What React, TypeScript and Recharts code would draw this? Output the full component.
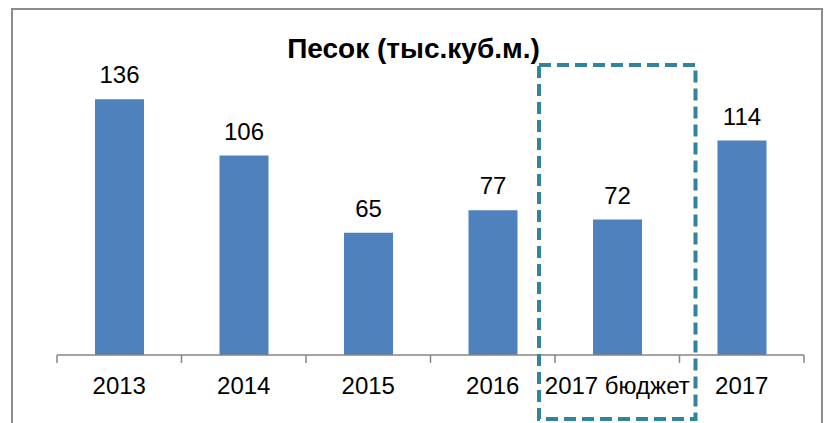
import React from "react";
import { Bar, BarChart, LabelList, XAxis, YAxis } from "recharts";

const categories = ["2013", "2014", "2015", "2016", "2017 бюджет", "2017"];
const sandValues = [136, 106, 65, 77, 72, 114];
const title = "Песок (тыс.куб.м.)";
const highlighted = "2017 бюджет";

const data = categories.map((name, i) => ({ name, value: sandValues[i] }));

const W = 824;
const H = 423;
const plotLeft = 57;
const plotRight = 804;
const plotTop = 54;
const axisY = 355;
const axisH = 30;
const band = (plotRight - plotLeft) / categories.length;
const font = "'Liberation Sans', Arial, sans-serif";

function Tick(props: any) {
  const { x, y, payload, index } = props;
  const half = band / 2;
  return (
    <g>
      <line x1={x - half} x2={x - half} y1={y} y2={y + 8} stroke="#868686" strokeWidth={1.5} />
      {index === categories.length - 1 && (
        <line x1={x + half} x2={x + half} y1={y} y2={y + 8} stroke="#868686" strokeWidth={1.5} />
      )}
      <text x={x} y={y + 39} textAnchor="middle" fontSize={24} fill="#000" fontFamily={font}>
        {payload.value}
      </text>
    </g>
  );
}

export default function App() {
  const hi = categories.indexOf(highlighted);
  const boxX = plotLeft + hi * band - 16;
  return (
    <div style={{ position: "absolute", left: 0, top: 0, width: W, height: H, background: "#fff", overflow: "hidden" }}>
      <div
        style={{
          position: "absolute",
          left: 11,
          top: 8,
          width: 812,
          height: 440,
          border: "2px solid #8c8c8c",
          boxSizing: "border-box",
        }}
      />
      <div style={{ position: "absolute", left: 0, top: 0 }}>
        <BarChart
          width={W}
          height={H}
          data={data}
          margin={{ top: plotTop, left: plotLeft, right: W - plotRight, bottom: H - axisY - axisH }}
        >
          <XAxis
            dataKey="name"
            height={axisH}
            axisLine={{ stroke: "#868686", strokeWidth: 1.5 }}
            tickLine={false}
            tickSize={0}
            tickMargin={0}
            interval={0}
            tick={<Tick />}
          />
          <YAxis hide domain={[0, 160]} />
          <Bar dataKey="value" fill="#4F81BD" barSize={49} isAnimationActive={false}>
            <LabelList dataKey="value" position="top" offset={16} fontSize={24} fill="#000" fontFamily={font} />
          </Bar>
        </BarChart>
      </div>
      <svg style={{ position: "absolute", left: 0, top: 0 }} width={W} height={H}>
        <text x={413.5} y={58} textAnchor="middle" fontSize={28} fontWeight="bold" fontFamily={font} fill="#000">
          {title}
        </text>
        <rect
          x={boxX}
          y={65}
          width={band + 32}
          height={354}
          fill="none"
          stroke="#31849B"
          strokeWidth={4}
          strokeDasharray="12 6"
        />
      </svg>
    </div>
  );
}
